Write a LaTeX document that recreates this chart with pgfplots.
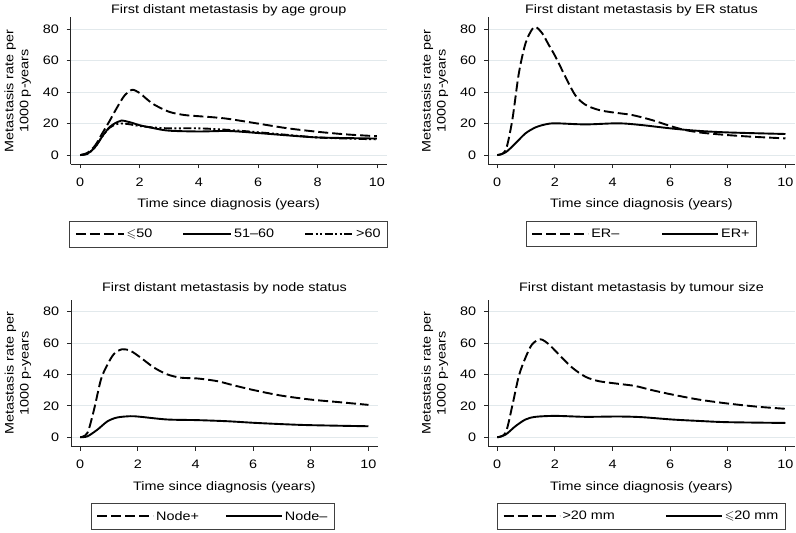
\documentclass[border=0pt]{standalone}
\usepackage{amssymb}
\usepackage{fontspec}
\setmainfont[FakeStretch=1.17]{Liberation Sans}
\usepackage{pgfplots}
\pgfplotsset{compat=1.18}

\definecolor{gridc}{RGB}{226,233,236}

\pgfplotsset{
  stata/.style={
    scale only axis,
    height=147pt,
    xmin=-0.32, xmax=10.33,
    ymin=-6, ymax=87.5,
    xtick={0,2,...,10}, ytick={0,20,...,80},
    axis x line*=bottom, axis y line*=left,
    axis line style={line width=0.9pt, black!85},
    tick align=outside, major tick length=4pt,
    tick style={line width=0.8pt, black!85},
    ymajorgrids, grid style={gridc, line width=0.8pt},
    no markers,
    tick label style={font=\fontsize{12.3}{14}\selectfont},
    /pgf/number format/assume math mode=true,
    xticklabel style={yshift=-5.8pt},
    yticklabel style={xshift=-4.4pt},
    xlabel={Time since diagnosis (years)},
    xlabel style={at={(axis description cs:0.5,0)}, anchor=base, yshift=-43.5pt,
      font=\fontsize{12.3}{14}\selectfont},
    ylabel={Metastasis rate per\\1000 p-years},
    ylabel style={anchor=center, align=center, font=\fontsize{12.3}{15}\selectfont},
    every axis title/.style={at={(axis description cs:0.5,1)}, anchor=base,
      font=\fontsize{12.3}{14}\selectfont},
    legend style={at={(0.5,-0.381)}, anchor=north, draw=black!75, line width=0.8pt,
      font=\fontsize{12.3}{14}\selectfont, inner xsep=5pt, inner ysep=6pt},
    legend cell align=left,
    every axis plot/.append style={line width=1.9pt, black, smooth},
  },
  dsh/.style={dash pattern=on 10pt off 4pt},
  dshdot/.style={dash pattern=on 8pt off 2.5pt on 2pt off 2.5pt on 2pt off 2.5pt},
  img/.style={legend image code/.code={\draw[##1] (0pt,0pt) -- (#1,0pt);}},
  csep/.style={legend style={/tikz/every even column/.append style={column sep=#1}}},
}

\begin{document}
\begin{tikzpicture}
\useasboundingbox (0,0) rectangle (796pt,533pt);

% top left: age group
\begin{axis}[stata, img=48pt, csep=28pt, width=316pt, at={(70.7pt,368.5pt)}, anchor=south west,
  title={First distant metastasis by age group}, title style={yshift=3.5pt},
  ylabel style={at={(axis description cs:-0.168,0.5)}},
  legend columns=3]
\addplot[dsh] coordinates {
(0,0) (0.25,1.5) (0.5,6) (0.75,14) (1,22) (1.25,30.5) (1.5,38) (1.75,41.5) (2,39.5)
(2.25,35.5) (2.5,32) (3,27.5) (3.5,25.5) (4,24.7) (4.5,24) (5,23) (6,20) (7,17)
(8,14.8) (9,13.1) (10,12)};
\addplot[solid] coordinates {
(0,0) (0.25,1) (0.5,5) (0.75,12) (1,18) (1.25,21) (1.4,22) (1.75,20.5) (2,19)
(2.5,17) (3,15.5) (4,15) (5,15.3) (6,14) (7,12.5) (8,11.2) (9,10.8) (10,10.5)};
\addplot[dshdot] coordinates {
(0,0) (0.25,0.8) (0.5,5) (0.75,12) (1,17.5) (1.25,19.8) (1.5,20) (1.75,19.3) (2,18.5)
(2.5,17.5) (3,17) (4,17) (5,16) (6,14.5) (7,12.8) (8,11.2) (9,10.5) (10,10)};
\legend{$\leqslant$50, 51--60, >60}
\end{axis}

% top right: ER status
\begin{axis}[stata, img=56pt, csep=40pt, width=307pt, at={(488pt,368.5pt)}, anchor=south west,
  title={First distant metastasis by ER status}, title style={yshift=3.5pt},
  ylabel style={at={(axis description cs:-0.173,0.5)}},
  legend columns=2]
\addplot[dsh] coordinates {
(0,0) (0.29,3) (0.52,22) (0.75,52) (0.98,71) (1.21,80) (1.35,81.3) (1.56,77.5)
(1.79,70) (2.02,62.6) (2.36,50) (2.71,38) (3.06,32) (3.52,28.7) (3.98,27.2)
(4.67,25.5) (5.36,22.3) (6,18.5) (6.5,16) (7.1,14.2) (8,12.7) (8.8,11.7) (10,10.6)};
\addplot[solid] coordinates {
(0,0) (0.29,1.7) (0.63,7.4) (0.98,13.8) (1.33,17.6) (1.67,19.5) (2.02,20.2)
(3.06,19.5) (4.2,20.2) (5,19.1) (6,17) (6.9,15.5) (8,14.4) (10,13.4)};
\legend{ER--, ER+}
\end{axis}

% bottom left: node status
\begin{axis}[stata, img=56pt, csep=24pt, width=307pt, at={(71pt,86.3pt)}, anchor=south west,
  title={First distant metastasis by node status}, title style={yshift=8pt},
  ylabel style={at={(axis description cs:-0.173,0.5)}},
  legend style={at={(0.462,-0.381)}},
  legend columns=2]
\addplot[dsh] coordinates {
(0,0) (0.25,2.8) (0.48,17.7) (0.72,36.8) (0.95,46.4) (1.18,53.2) (1.46,56) (1.75,54.9)
(2.1,50.6) (2.56,44.3) (3.02,40) (3.48,37.9) (4.06,37.4) (4.75,35.7) (5.33,33)
(6.02,30) (6.94,26.6) (7.98,24) (9,22.3) (10,20.6)};
\addplot[solid] coordinates {
(0,0) (0.25,0.6) (0.6,4.9) (0.95,10.2) (1.29,12.6) (1.75,13.4) (2.1,13) (3.02,11.3)
(4.06,10.9) (5.1,10.2) (6.02,9.2) (7.06,8.3) (7.98,7.7) (10,7)};
\legend{Node+, Node--}
\end{axis}

% bottom right: tumour size
\begin{axis}[stata, img=56pt, csep=48pt, width=307pt, at={(488pt,86.3pt)}, anchor=south west,
  title={First distant metastasis by tumour size}, title style={yshift=8pt},
  ylabel style={at={(axis description cs:-0.173,0.5)}},
  legend columns=2]
\addplot[dsh] coordinates {
(0,0) (0.29,2.8) (0.52,19.8) (0.75,39) (0.98,50.6) (1.21,59.1) (1.5,62.3) (1.79,59.1)
(2.13,52.8) (2.6,44.3) (3.06,38.5) (3.52,35.7) (4.2,34) (4.79,32.6) (5.36,30)
(6.06,27.2) (6.98,24) (7.98,21.5) (9.05,19.4) (10,18.1)};
\addplot[solid] coordinates {
(0,0) (0.29,1.7) (0.63,7) (0.98,11.3) (1.33,13) (2.02,13.6) (3.06,13) (4.2,13.2)
(5,12.8) (6.06,11.3) (6.98,10.4) (7.98,9.6) (10,9.1)};
\legend{>20 mm, $\leqslant$20 mm}
\end{axis}
\end{tikzpicture}
\end{document}
